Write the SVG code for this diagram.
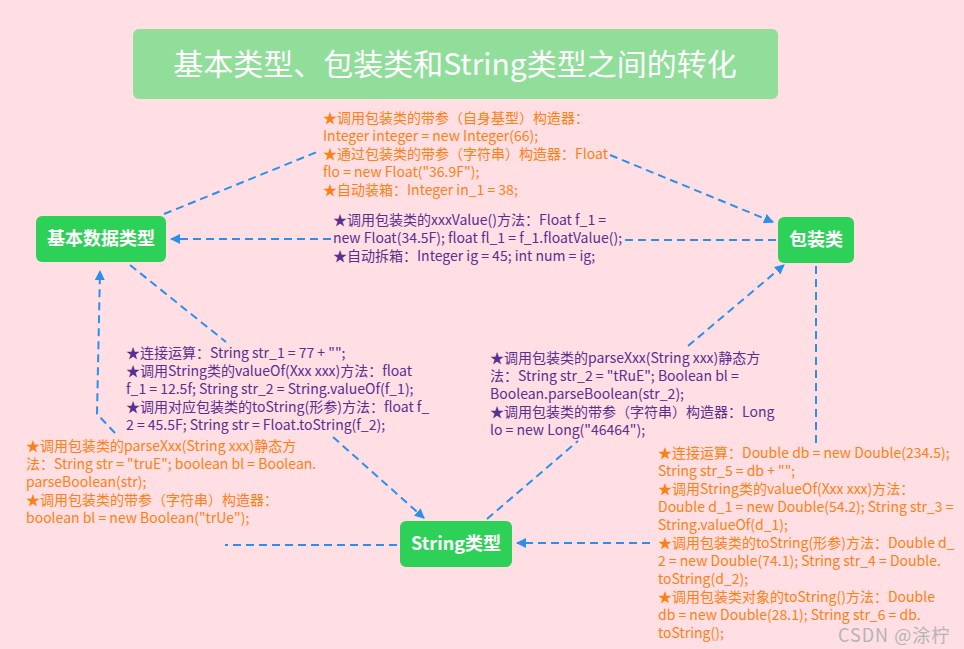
<svg xmlns="http://www.w3.org/2000/svg" width="964" height="649" viewBox="0 0 964 649">
<defs>
<marker id="arr" viewBox="0 0 10 10" refX="9" refY="5" markerWidth="10" markerHeight="10" markerUnits="userSpaceOnUse" orient="auto">
<path d="M0,0 L10,5 L0,10 z" fill="#2B8FEE"/>
</marker>
<style>
.bg{fill:#FFDFE4}
.node rect{fill:#2ED158}
.node text{fill:#fff;font-family:"Noto Sans CJK SC","Noto Sans",sans-serif;font-weight:bold;font-size:18px;text-anchor:middle}
.title rect{fill:#90DE9A}
.title text{fill:#fff;font-family:"Noto Sans CJK SC","Noto Sans",sans-serif;font-size:30px;text-anchor:middle}
.conn path,.conn line{fill:none;stroke:#2B8FEE;stroke-width:2;stroke-dasharray:8,5}
.lbl{font-family:"Noto Sans CJK SC","Noto Sans",sans-serif;font-size:14px}
.or{fill:#FF7F12}
.pu{fill:#5A2E92}
.wm{font-family:"Noto Sans CJK SC","Noto Sans",sans-serif;font-size:18px;letter-spacing:1px;fill:#B4B4B4}
</style>
</defs>
<rect class="bg" x="0" y="0" width="964" height="649"/>

<g id="title" class="title">
<rect x="133" y="29" width="645" height="70" rx="6"/>
<text x="455" y="75">基本类型、包装类和String类型之间的转化</text>
</g>

<g id="connectors" class="conn">
<line x1="164" y1="214" x2="317" y2="152"/>
<line x1="610" y1="155" x2="773" y2="222" marker-end="url(#arr)"/>
<line x1="776" y1="240" x2="622" y2="240"/>
<line x1="331" y1="239" x2="171" y2="239" marker-end="url(#arr)"/>
<line x1="130" y1="265" x2="226" y2="342"/>
<line x1="333" y1="437" x2="424" y2="518" marker-end="url(#arr)"/>
<line x1="487" y1="519" x2="578" y2="441"/>
<line x1="688" y1="346" x2="784" y2="265" marker-end="url(#arr)"/>
<line x1="816" y1="266" x2="816" y2="445"/>
<line x1="650" y1="543" x2="517" y2="543" marker-end="url(#arr)"/>
<line x1="397" y1="545" x2="225" y2="545"/>
<path d="M115,433 L97,414 L100,271" marker-end="url(#arr)"/>
</g>

<g id="node-basic" class="node">
<rect x="36" y="216" width="130" height="46" rx="6"/>
<text x="101" y="245">基本数据类型</text>
</g>
<g id="node-wrapper" class="node">
<rect x="778" y="217" width="76" height="46" rx="6"/>
<text x="816" y="246">包装类</text>
</g>
<g id="node-string" class="node">
<rect x="400" y="521" width="112" height="46" rx="6"/>
<text x="456" y="550">String类型</text>
</g>

<g id="label-basic-to-wrapper">
<text class="lbl or" x="323" y="123">★调用包装类的带参（自身基型）构造器：<tspan x="323" dy="18">Integer integer = new Integer(66);</tspan><tspan x="323" dy="18">★通过包装类的带参（字符串）构造器：Float</tspan><tspan x="323" dy="18">flo = new Float("36.9F");</tspan><tspan x="323" dy="18">★自动装箱：Integer in_1 = 38;</tspan></text>
</g>

<g id="label-wrapper-to-basic">
<text class="lbl pu" x="333" y="225">★调用包装类的xxxValue()方法：Float f_1 =<tspan x="333" dy="18">new Float(34.5F); float fl_1 = f_1.floatValue();</tspan><tspan x="333" dy="18">★自动拆箱：Integer ig = 45; int num = ig;</tspan></text>
</g>

<g id="label-basic-to-string">
<text class="lbl pu" x="126" y="358">★连接运算：String str_1 = 77 + "";<tspan x="126" dy="18">★调用String类的valueOf(Xxx xxx)方法：float</tspan><tspan x="126" dy="18">f_1 = 12.5f; String str_2 = String.valueOf(f_1);</tspan><tspan x="126" dy="18">★调用对应包装类的toString(形参)方法：float f_</tspan><tspan x="126" dy="18">2 = 45.5F; String str = Float.toString(f_2);</tspan></text>
</g>

<g id="label-string-to-wrapper">
<text class="lbl pu" x="490" y="363">★调用包装类的parseXxx(String xxx)静态方<tspan x="490" dy="18">法：String str_2 = "tRuE"; Boolean bl =</tspan><tspan x="490" dy="18">Boolean.parseBoolean(str_2);</tspan><tspan x="490" dy="18">★调用包装类的带参（字符串）构造器：Long</tspan><tspan x="490" dy="18">lo = new Long("46464");</tspan></text>
</g>

<g id="label-string-to-basic">
<text class="lbl or" x="26" y="451">★调用包装类的parseXxx(String xxx)静态方<tspan x="26" dy="18">法：String str = "truE"; boolean bl = Boolean.</tspan><tspan x="26" dy="18">parseBoolean(str);</tspan><tspan x="26" dy="18">★调用包装类的带参（字符串）构造器：</tspan><tspan x="26" dy="18">boolean bl = new Boolean("trUe");</tspan></text>
</g>

<g id="label-wrapper-to-string">
<text class="lbl or" x="658" y="458">★连接运算：Double db = new Double(234.5);<tspan x="658" dy="18">String str_5 = db + "";</tspan><tspan x="658" dy="18">★调用String类的valueOf(Xxx xxx)方法：</tspan><tspan x="658" dy="18">Double d_1 = new Double(54.2); String str_3 =</tspan><tspan x="658" dy="18">String.valueOf(d_1);</tspan><tspan x="658" dy="18">★调用包装类的toString(形参)方法：Double d_</tspan><tspan x="658" dy="18">2 = new Double(74.1); String str_4 = Double.</tspan><tspan x="658" dy="18">toString(d_2);</tspan><tspan x="658" dy="18">★调用包装类对象的toString()方法：Double</tspan><tspan x="658" dy="18">db = new Double(28.1); String str_6 = db.</tspan><tspan x="658" dy="18">toString();</tspan></text>
</g>

<text class="wm" x="838" y="642">CSDN @涂柠</text>
</svg>
